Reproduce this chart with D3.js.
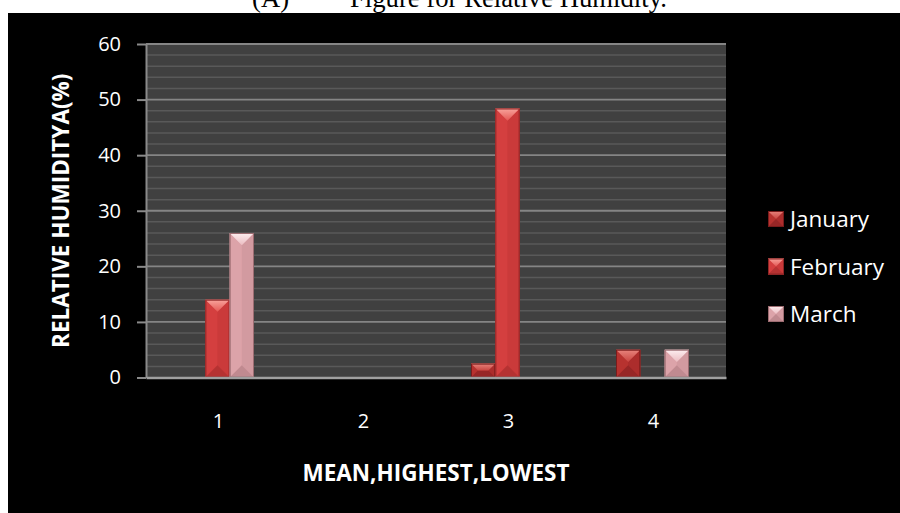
<!DOCTYPE html>
<html>
<head>
<meta charset="utf-8">
<script src="https://cdn.jsdelivr.net/npm/d3@7"></script>
<style>
  html, body { margin: 0; padding: 0; background: #ffffff; }
  svg { display: block; }
</style>
</head>
<body>
<svg id="chart" width="900" height="513"></svg>
<script>
// Relative humidity by statistic (mean, highest, lowest) for three months
const categories = ["1", "2", "3", "4"];
const seriesNames = ["January", "February", "March"];
const january = [0, 0, 2.5, 5];
const february = [14, 0, 48.4, 0];
const march = [26, 0, 0, 5];
const yTickValues = [0, 10, 20, 30, 40, 50, 60];

const seriesValues = [january, february, march];

// Bevelled-bar palettes per series
const palettes = [
  { face: "#b3302f", topHi: "#e8847d", topLo: "#c94540", left: "#b7322f", right: "#ac2d2c", bottom: "#972626", edge: "#7a1c1c" },
  { face: "#d23d3d", topHi: "#f8a49c", topLo: "#e45854", left: "#d43f3f", right: "#ca3a3a", bottom: "#b53232", edge: "#8e2525" },
  { face: "#daa0a6", topHi: "#fdeef0", topLo: "#ebbcc1", left: "#dca3a9", right: "#d29aa0", bottom: "#c08a90", edge: "#9c6c71" }
];

const svg = d3.select("#chart");
const W = 900, H = 513;

// Chart background
svg.append("rect").attr("x", 8).attr("y", 13).attr("width", W - 8).attr("height", H - 13).attr("fill", "#000000");

// Caption line above the chart
svg.append("text").attr("x", 252).attr("y", 7)
  .attr("font-family", "'Liberation Serif', 'Times New Roman', serif").attr("font-size", 26.7)
  .attr("fill", "#000").text("(A)");
svg.append("text").attr("x", 350).attr("y", 7)
  .attr("font-family", "'Liberation Serif', 'Times New Roman', serif").attr("font-size", 26.7)
  .attr("fill", "#000").text("Figure for Relative Humidity.");

const plot = { left: 146, right: 726, top: 44, bottom: 377.5 };

const x = d3.scaleBand().domain(categories).range([plot.left, plot.right]).padding(0);
const xInner = d3.scaleBand().domain(seriesNames).range([35, 108]).padding(0);
const y = d3.scaleLinear().domain([0, 60]).range([plot.bottom, plot.top]);

// Plot area
svg.append("rect")
  .attr("x", plot.left).attr("y", plot.top)
  .attr("width", plot.right - plot.left).attr("height", plot.bottom - plot.top)
  .attr("fill", "#404040");

// Minor gridlines every 2
const minor = d3.range(2, 60, 2).filter(v => v % 10 !== 0);
svg.append("g").selectAll("line").data(minor).join("line")
  .attr("x1", plot.left).attr("x2", plot.right)
  .attr("y1", d => y(d)).attr("y2", d => y(d))
  .attr("stroke", "#595959").attr("stroke-width", 1.5);

// Major gridlines
svg.append("g").selectAll("line").data(yTickValues.filter(v => v > 0)).join("line")
  .attr("x1", plot.left).attr("x2", plot.right)
  .attr("y1", d => y(d)).attr("y2", d => y(d))
  .attr("stroke", "#858585").attr("stroke-width", 1.8);

// Gradients for the bevel highlights
const defs = svg.append("defs");
palettes.forEach((p, i) => {
  const gTop = defs.append("linearGradient").attr("id", "top" + i)
    .attr("x1", 0).attr("y1", 0).attr("x2", 0).attr("y2", 1);
  gTop.append("stop").attr("offset", "0%").attr("stop-color", p.topHi);
  gTop.append("stop").attr("offset", "100%").attr("stop-color", p.topLo);
});

function bevelBar(g, x0, y0, w, h, p, i) {
  if (h <= 0) return;
  const d = Math.min(w, h) / 2;
  const x1 = x0 + w, y1 = y0 + h;
  const poly = pts => pts.map(q => q.join(",")).join(" ");
  g.append("rect").attr("x", x0).attr("y", y0).attr("width", w).attr("height", h).attr("fill", p.face);
  g.append("polygon").attr("points", poly([[x0, y0], [x0 + d, y0 + d], [x0 + d, y1 - d], [x0, y1]])).attr("fill", p.left);
  g.append("polygon").attr("points", poly([[x1, y0], [x1, y1], [x1 - d, y1 - d], [x1 - d, y0 + d]])).attr("fill", p.right);
  g.append("polygon").attr("points", poly([[x0, y1], [x1, y1], [x1 - d, y1 - d], [x0 + d, y1 - d]])).attr("fill", p.bottom);
  g.append("polygon").attr("points", poly([[x0, y0], [x1, y0], [x1 - d, y0 + d], [x0 + d, y0 + d]])).attr("fill", "url(#top" + i + ")");
  g.append("rect").attr("x", x0 + 0.5).attr("y", y0 + 0.5).attr("width", w - 1).attr("height", Math.max(h - 1, 0))
    .attr("fill", "none").attr("stroke", p.edge).attr("stroke-width", 1);
}

// Bars
const barsG = svg.append("g");
seriesNames.forEach((name, si) => {
  seriesValues[si].forEach((v, ci) => {
    const bx = x(categories[ci]) + xInner(name);
    const by = y(v);
    bevelBar(barsG.append("g"), bx, by, xInner.bandwidth(), y(0) - by, palettes[si], si);
  });
});

const font = "'Open Sans', 'Noto Sans', sans-serif";

// Y axis
const yAxis = svg.append("g").attr("transform", `translate(${plot.left},0)`)
  .call(d3.axisLeft(y).tickValues(yTickValues).tickSize(9).tickSizeOuter(0).tickPadding(16));
yAxis.select(".domain").attr("stroke", "#8a8a8a").attr("stroke-width", 2);
yAxis.selectAll(".tick line").attr("stroke", "#8a8a8a").attr("stroke-width", 2);
yAxis.selectAll(".tick text").attr("fill", "#ffffff").attr("font-family", font).attr("font-size", 20);

// X axis
const xAxis = svg.append("g").attr("transform", `translate(0,${plot.bottom})`)
  .call(d3.axisBottom(x).tickSize(0).tickSizeOuter(0));
xAxis.select(".domain").attr("stroke", "#a0a0a0").attr("stroke-width", 2.5);
xAxis.selectAll(".tick text").attr("fill", "#ffffff").attr("font-family", font).attr("font-size", 20)
  .attr("y", 50.5).attr("dy", 0);

// Axis titles
svg.append("text")
  .attr("transform", `translate(61,${(plot.top + plot.bottom) / 2}) rotate(-90)`)
  .attr("text-anchor", "middle").attr("dy", "0.36em")
  .attr("fill", "#ffffff").attr("font-family", font).attr("font-weight", 700).attr("font-size", 22.5)
  .text("RELATIVE HUMIDITYA(%)");

svg.append("text")
  .attr("x", (plot.left + plot.right) / 2).attr("y", 481)
  .attr("text-anchor", "middle")
  .attr("fill", "#ffffff").attr("font-family", font).attr("font-weight", 700).attr("font-size", 22.5)
  .text("MEAN,HIGHEST,LOWEST");

// Legend
const legendY = [219, 266.5, 314];
seriesNames.forEach((name, i) => {
  const g = svg.append("g");
  bevelBar(g, 768, legendY[i] - 8, 16, 16, palettes[i], i);
  g.append("text").attr("x", 790).attr("y", legendY[i]).attr("dy", "0.36em")
    .attr("fill", "#ffffff").attr("font-family", font).attr("font-size", 22.5)
    .text(name);
});
</script>
</body>
</html>
